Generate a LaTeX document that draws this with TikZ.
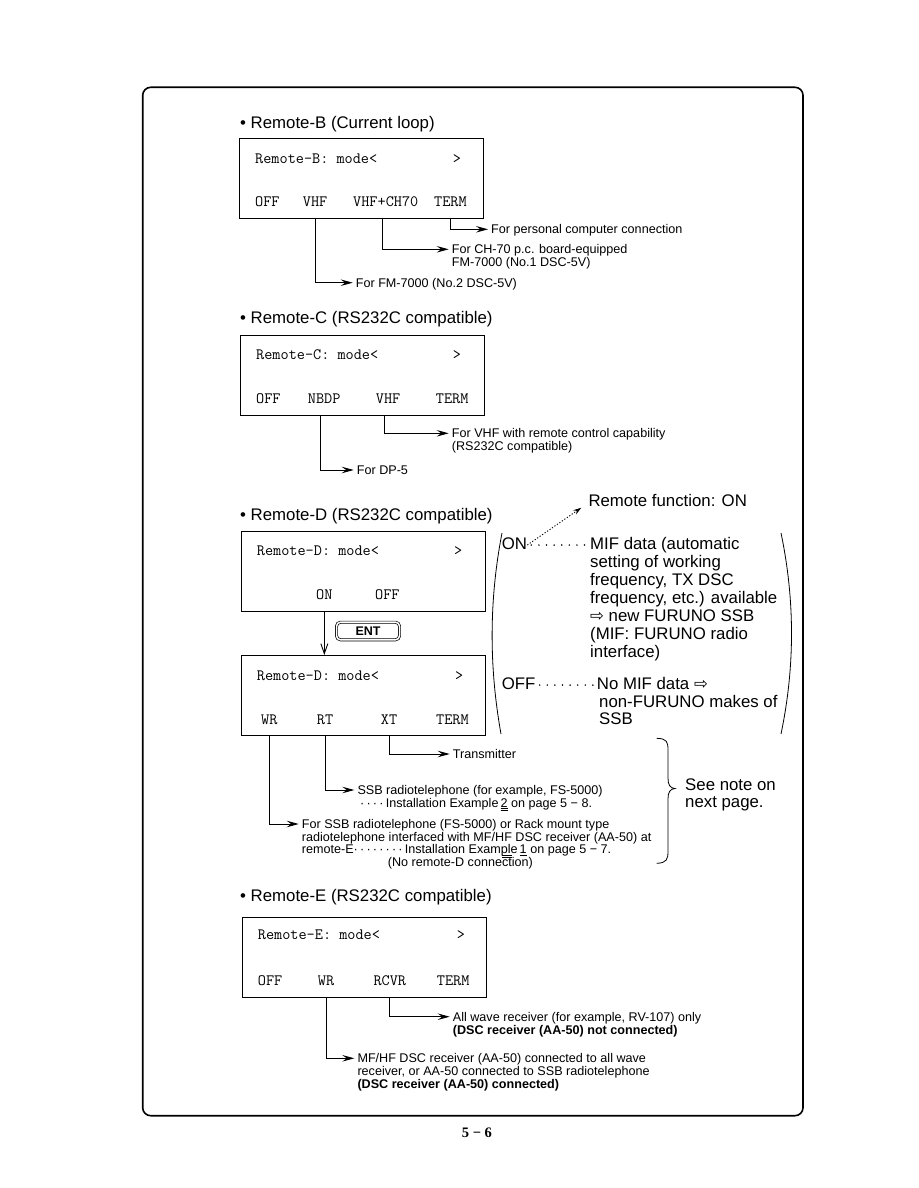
\documentclass[tikz,border=0pt]{standalone}
\usepackage{fontspec}
\setmainfont{Liberation Sans}
\newfontfamily\dvfont{DejaVu Sans}
\newfontfamily\pgfont{Liberation Serif}
\usetikzlibrary{arrows.meta,calc}
\newcommand\wra{{\dvfont\fontsize{16.5}{16}\selectfont ⇨}}
\newcommand\dd{·\kern2.2pt}
\begin{document}
\begin{tikzpicture}[x=1pt,y=-1pt,
 every node/.style={inner sep=0pt},
 head/.style={anchor=base west,font=\fontsize{16.8}{18}\selectfont},
 mono/.style={anchor=base west,font=\fontsize{15.8}{16}\ttfamily\addfontfeature{FakeBold=0.8}},
 scr/.style={draw,line width=1.1pt,minimum width=244pt,minimum height=80pt,anchor=north west},
 note/.style={anchor=west,font=\fontsize{12.6}{13}\selectfont,text height=9pt,text depth=0pt},
 noteline/.style={anchor=base west,font=\fontsize{12.6}{13}\selectfont},
 rtext/.style={anchor=base west,font=\fontsize{16.8}{18}\selectfont,text height=12pt,text depth=3.5pt},
 conn/.style={line width=0.9pt,-{Stealth[length=12pt,width=6.5pt,inset=4.5pt]},shorten >=3pt},
 leader/.style={line width=1.7pt,line cap=round,dash pattern=on 0pt off 7.6pt,shorten <=4pt,shorten >=3pt},
 paren/.style={line width=0.8pt},
]
\useasboundingbox (0,0) rectangle (918,1188);
% outer frame
\draw[line width=1.6pt,rounded corners=8pt] (142.7,87.3) rectangle (803,1115.7);
\node[anchor=base west,font=\pgfont\bfseries\fontsize{14.5}{15}\selectfont] (pg) at (461.7,1137.7) {5 − 6};

% ---------------- Remote-B
\node[head] (hB) at (240,128.3) {• Remote-B (Current loop)};
\node[scr] (bB) at (239,138) {};
\node[mono] (tB) at (255,163.3) {Remote-B: mode<};
\node[mono] (gB) at (452.7,163.3) {>};
\node[mono] (offB) at (255,206.7) {OFF};
\node[mono] (vhfB) at (302.7,206.7) {VHF};
\node[mono] (vchB) at (353,206.7) {VHF+CH70};
\node[mono] (termB) at (434,206.7) {TERM};
\node[note] (pcB) at (491,229.3) {For personal computer connection};
\node[note] (chB) at (451.7,249.3) {For CH-70 p.c. board-equipped};
\node[noteline] (chB2) at (451.7,266.5) {FM-7000 (No.1 DSC-5V)};
\node[note] (fmB) at (355.7,282.7) {For FM-7000 (No.2 DSC-5V)};
\draw[conn] (termB |- bB.south) |- (pcB.west);
\draw[conn] ([xshift=-3pt]vchB.south |- bB.south) |- (chB.west);
\draw[conn] (vhfB |- bB.south) |- (fmB.west);

% ---------------- Remote-C
\node[head] (hC) at (240,323.3) {• Remote-C (RS232C compatible)};
\node[scr] (bC) at (240,334.5) {};
\node[mono] (tC) at (256,359) {Remote-C: mode<};
\node[mono] (gC) at (452.7,359) {>};
\node[mono] (offC) at (256,403.3) {OFF};
\node[mono] (nbdpC) at (307.7,403.3) {NBDP};
\node[mono] (vhfC) at (375.7,403.3) {VHF};
\node[mono] (termC) at (435.7,403.3) {TERM};
\node[note] (vcC) at (451.7,433.3) {For VHF with remote control capability};
\node[noteline] (vcC2) at (451.7,450.5) {(RS232C compatible)};
\node[note] (dpC) at (356.7,470) {For DP-5};
\draw[conn] ([xshift=-4pt]vhfC.south |- bC.south) |- (vcC.west);
\draw[conn] ([xshift=-3.6pt]nbdpC.south |- bC.south) |- (dpC.west);

% ---------------- Remote-D
\node[head] (hD) at (240,520.5) {• Remote-D (RS232C compatible)};
\node[scr] (bD1) at (241,531) {};
\node[mono] (tD1) at (256.7,555) {Remote-D: mode<};
\node[mono] (gD1) at (454,555) {>};
\node[mono] (onD) at (316,599.3) {ON};
\node[mono] (offD) at (375,599.3) {OFF};
\node[draw,double,double distance=1.5pt,line width=0.7pt,rounded corners=4pt,
      minimum width=63pt,minimum height=17.6pt,
      font=\bfseries\fontsize{12.5}{12}\selectfont] (ent) at (368,631) {ENT};
\node[scr] (bD2) at (241,655) {};
\node[mono] (tD2) at (256.7,680) {Remote-D: mode<};
\node[mono] (gD2) at (455,680) {>};
\node[mono] (wrD) at (261,724) {WR};
\node[mono] (rtD) at (316.7,724) {RT};
\node[mono] (xtD) at (380.7,724) {XT};
\node[mono] (termD) at (436,724) {TERM};
\draw[line width=0.9pt,-{Straight Barb[length=10pt,width=7pt]}] (onD |- bD1.south) -- (onD |- bD2.north);

\node[note] (txD) at (452.7,754) {Transmitter};
\node[note] (ssbD) at (357.3,790) {SSB radiotelephone (for example, FS-5000)};
\node[noteline] (ssbD2) at (360,807.2) {\dd\dd\dd\dd Installation Example\,\underline{\underline{2}} on page 5 − 8.};
\node[note] (wrD1) at (301.7,824) {For SSB radiotelephone (FS-5000) or Rack mount type};
\node[noteline] (wrD2) at (301.7,841.2) {radiotelephone interfaced with MF/HF DSC receiver (AA-50) at};
\node[noteline] (wrD3) at (301.7,853.9) {remote-E\dd\dd\dd\dd\dd\dd\dd\dd Installation Example\,\underline{1} on page 5 − 7.};
\node[noteline] (wrD4) at (387.7,866.6) {(No remote-D conne$\overline{\overline{\mbox{ct}}}$ion)};
\draw[conn] (xtD |- bD2.south) |- (txD.west);
\draw[conn] (rtD |- bD2.south) |- (ssbD.west);
\draw[conn] (wrD |- bD2.south) |- (wrD1.west);

% right-hand explanation
\draw[paren] (502,533) .. controls (489,600) and (489,667) .. (501,734);
\draw[paren] (781,533) .. controls (795,600) and (795,667) .. (781,734);
\node[rtext] (rf) at (588.3,506) {Remote function: ON};
\node[rtext] (onR) at (501.7,549.3) {ON};
\node[rtext] (m1) at (590,549.3) {MIF data (automatic};
\node[rtext] (m2) at (590,567.3) {setting of working};
\node[rtext] (m3) at (590,585.3) {frequency, TX DSC};
\node[rtext] (m4) at (590,603.3) {frequency, etc.) available};
\node[rtext] (m5) at (590,621.3) {\wra\ new FURUNO SSB};
\node[rtext] (m6) at (590,639.3) {(MIF: FURUNO radio};
\node[rtext] (m7) at (590,657.3) {interface)};
\node[rtext] (offR) at (501.7,689.3) {OFF};
\node[rtext] (n1) at (596.7,689.3) {No MIF data \wra};
\node[rtext] (n2) at (599,707.3) {non-FURUNO makes of};
\node[rtext] (n3) at (599,724.8) {SSB};
\draw[leader] (onR.east) -- (m1.west);
\draw[leader] (offR.east) -- (n1.west);
\draw[line width=0.9pt,dash pattern=on 1.2pt off 1.8pt,-{Stealth[length=8pt,width=5pt,inset=2.5pt]}] (onR.east) -- ($(rf.west)+(-7,6)$);

% brace and note
\draw[line width=0.8pt] (656.7,738.3) .. controls (667,738.5) and (668,742) .. (668,750)
  -- (668,778) .. controls (668,785) and (670,788) .. (675,788.5)
  .. controls (670,789) and (668,792) .. (668,799)
  -- (668,851) .. controls (668,859) and (667,863) .. (656.7,863.3);
\node[rtext] (see1) at (685,790) {See note on};
\node[rtext] (see2) at (685,807.3) {next page.};

% ---------------- Remote-E
\node[head] (hE) at (240,901.7) {• Remote-E (RS232C compatible)};
\node[scr] (bE) at (242,916.5) {};
\node[mono] (tE) at (257.7,939.3) {Remote-E: mode<};
\node[mono] (gE) at (456.7,939.3) {>};
\node[mono] (offE) at (257.7,985) {OFF};
\node[mono] (wrE) at (317.7,985) {WR};
\node[mono] (rcvrE) at (373.3,985) {RCVR};
\node[mono] (termE) at (436.7,985) {TERM};
\node[note] (rcE1) at (452.7,1016.7) {All wave receiver (for example, RV-107) only};
\node[noteline,font=\bfseries\fontsize{12.6}{13}\selectfont] (rcE2) at (452.7,1034.5) {(DSC receiver (AA-50) not connected)};
\node[note] (wrE1) at (357.3,1058.3) {MF/HF DSC receiver (AA-50) connected to all wave};
\node[noteline] (wrE2) at (357.3,1075.5) {receiver, or AA-50 connected to SSB radiotelephone};
\node[noteline,font=\bfseries\fontsize{12.6}{13}\selectfont] (wrE3) at (357.3,1088.6) {(DSC receiver (AA-50) connected)};
\draw[conn] (rcvrE |- bE.south) |- (rcE1.west);
\draw[conn] (wrE |- bE.south) |- (wrE1.west);
\end{tikzpicture}
\end{document}
